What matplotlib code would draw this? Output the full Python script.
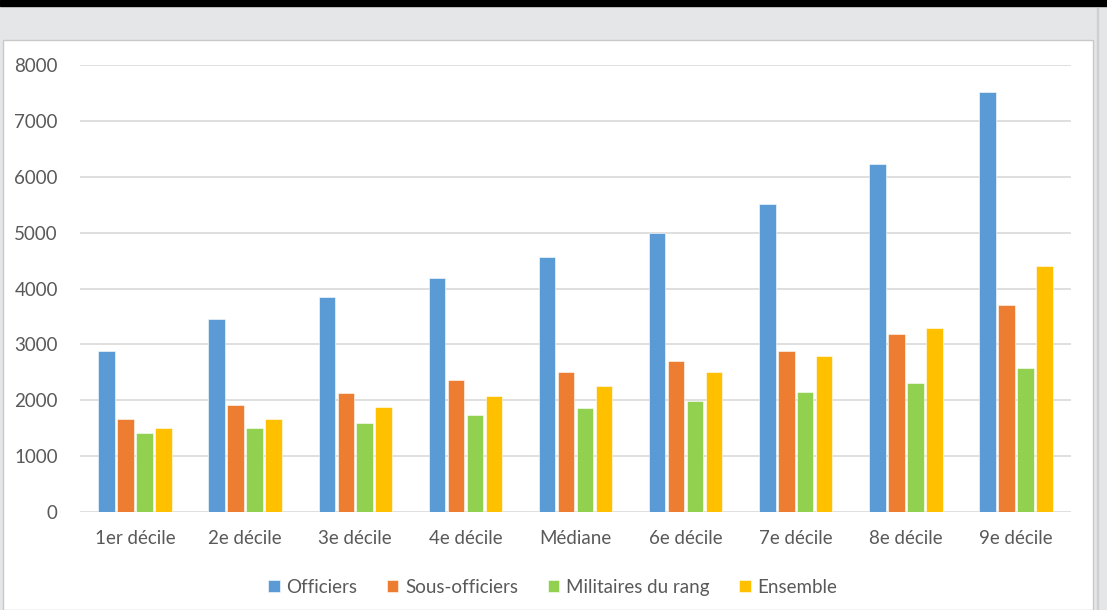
import numpy as np
import matplotlib.pyplot as plt
from matplotlib.patches import Rectangle

categories = ["1er décile", "2e décile", "3e décile", "4e décile", "Médiane",
              "6e décile", "7e décile", "8e décile", "9e décile"]
officiers = [2890, 3460, 3840, 4190, 4560, 5000, 5510, 6230, 7520]
sous_officiers = [1660, 1910, 2130, 2360, 2510, 2700, 2890, 3180, 3710]
militaires = [1410, 1500, 1600, 1730, 1860, 1990, 2140, 2300, 2580]
ensemble = [1500, 1660, 1880, 2070, 2260, 2510, 2800, 3300, 4400]

series = [("Officiers", officiers, "#5b9bd5"),
          ("Sous-officiers", sous_officiers, "#ed7d31"),
          ("Militaires du rang", militaires, "#92d050"),
          ("Ensemble", ensemble, "#ffc000")]

plt.rcParams['font.family'] = ['Lato', 'DejaVu Sans']
W, H = 1107, 610
fig = plt.figure(figsize=(W / 100, H / 100), dpi=100)
fig.patch.set_facecolor("#e5e6e8")

# frame decorations: black title strip, white chart panel, right gutter
fig.patches.append(Rectangle((0, 1 - 6 / H), 1, 6 / H, transform=fig.transFigure,
                             color="black", zorder=-5))
fig.patches.append(Rectangle((3 / W, 0), (1093 - 3) / W, (H - 40) / H,
                             transform=fig.transFigure, facecolor="white",
                             edgecolor="#c8c8c8", lw=1, zorder=-5))
fig.patches.append(Rectangle((1097 / W, 0), 1 / W, (H - 8) / H,
                             transform=fig.transFigure, color="#d0d0d0", zorder=-5))

ax = fig.add_axes([80 / W, 1 - 512 / H, (1071 - 80) / W, (512 - 65) / H])
ax.set_zorder(5)
ax.set_facecolor("white")

x = np.arange(len(categories))
bw = 0.15
step = 0.172
for i, (name, vals, col) in enumerate(series):
    ax.bar(x + (i - 1.5) * step, vals, width=bw, color=col, label=name,
           edgecolor="white", linewidth=0.4, zorder=3)

ax.set_xlim(-0.5, len(categories) - 0.5)
ax.set_ylim(0, 8000)
ax.set_yticks(range(0, 8001, 1000))
ax.set_xticks(x)
ax.set_xticklabels(categories)
ax.grid(axis="y", color="#d9d9d9", lw=1.2, zorder=0)
for s in ax.spines.values():
    s.set_visible(False)
ax.tick_params(length=0, colors="#595959", labelsize=13.5)
ax.tick_params(axis="x", pad=13)
ax.tick_params(axis="y", pad=16)

leg = ax.legend(loc="center", bbox_to_anchor=(0.477, -0.168), ncol=4, frameon=False,
                fontsize=13.5, handlelength=0.6, handleheight=0.6,
                handletextpad=0.35, columnspacing=1.6)
for t in leg.get_texts():
    t.set_color("#595959")

fig.savefig("out.png", dpi=100, facecolor=fig.get_facecolor())
